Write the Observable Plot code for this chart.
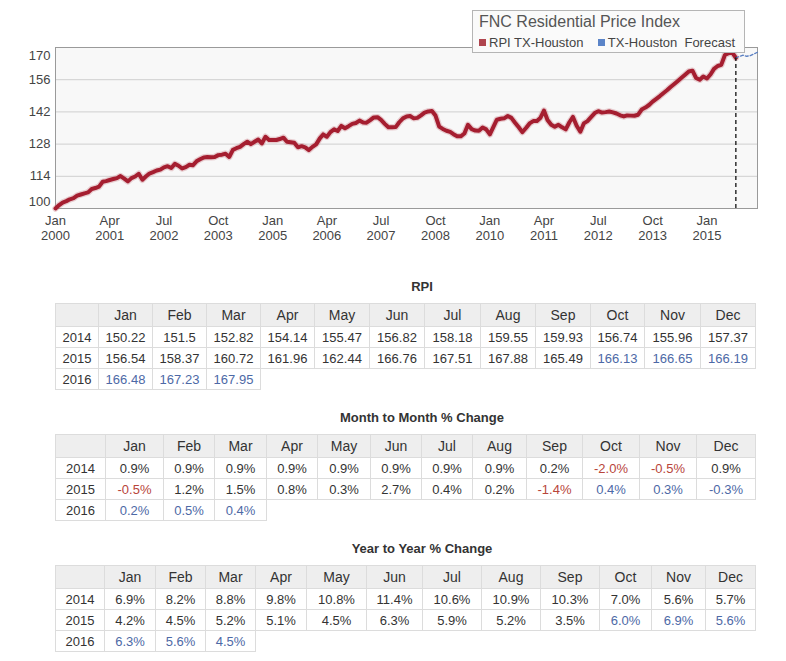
<!DOCTYPE html>
<html>
<head>
<meta charset="utf-8">
<script src="https://cdn.jsdelivr.net/npm/d3@7"></script>
<script src="https://cdn.jsdelivr.net/npm/@observablehq/plot@0.6"></script>
<style>
  body { margin: 0; background: #fff; font-family: "Liberation Sans", Arial, sans-serif; color: #333; }
  #wrap { position: relative; width: 786px; }
  #chart svg { display: block; font-family: "Liberation Sans", Arial, sans-serif; }
  #legend { position: absolute; left: 472px; top: 10px; width: 273px; height: 43px; box-sizing: border-box;
            background: #fafafa; border: 1px solid #b5b5b5; }
  #legend .ttl { position: absolute; left: 6px; top: 2px; font-size: 16px; color: #555; white-space: nowrap; }
  #legend .items { position: absolute; left: 6px; top: 24px; font-size: 13px; color: #444; white-space: nowrap; }
  #legend .sw { display: inline-block; width: 7px; height: 7px; margin-right: 3px; vertical-align: 1px; }
  .ttab { font-weight: bold; font-size: 13px; line-height: 16px; height: 16px; padding-left: 58px; text-align: center; color: #333; }
  table { border-collapse: collapse; table-layout: fixed; margin-left: 55px; width: 700px; }
  th, td { border: 1px solid #dcdcdc; padding: 0; text-align: center; white-space: nowrap; overflow: hidden; }
  th { background: #eeeeee; font-weight: normal; font-size: 14px; height: 22px; color: #333; }
  td { font-size: 13px; height: 20px; color: #333; }
</style>
</head>
<body>
<div id="wrap">
  <div id="chart"></div>
  <div id="legend">
    <div class="ttl">FNC Residential Price Index</div>
    <div class="items"><span class="sw" style="background:#b0454f"></span>RPI TX-Houston&nbsp;&nbsp;&nbsp;&nbsp;<span class="sw" style="background:#5b84c8"></span>TX-Houston&nbsp; Forecast</div>
  </div>
  <div id="tables"></div>
</div>
<script>
// ---------- data ----------
const months = ["Jan","Feb","Mar","Apr","May","Jun","Jul","Aug","Sep","Oct","Nov","Dec"];
const years = [2014, 2015, 2016];

// monthly RPI (estimated from chart) Jan 2000 .. Dec 2013
const rpi2000 = [100.0,101.5,102.6,103.2,104.0,104.5,105.6,106.1,106.6,107.0,108.5,108.9];
const rpi2001 = [109.5,111.6,111.9,112.4,112.8,113.2,114.1,113.0,111.8,113.2,113.9,115.1];
const rpi2002 = [112.5,114.0,115.2,115.8,116.5,116.9,117.9,118.4,117.6,119.4,118.6,117.4];
const rpi2003 = [118.0,119.0,118.8,120.5,121.4,122.2,122.4,122.3,122.4,123.2,123.4,123.8];
const rpi2004 = [122.4,125.5,126.2,126.8,128.0,129.0,128.0,129.0,130.0,128.3,131.2,129.8];
const rpi2005 = [129.8,129.8,130.2,130.8,129.0,128.8,128.6,126.6,127.1,126.6,125.4,126.8];
const rpi2006 = [127.9,130.5,132.2,131.2,133.2,134.4,133.7,135.9,134.9,135.8,136.8,137.2];
const rpi2007 = [138.2,137.4,137.3,138.4,139.6,139.7,138.5,136.8,135.3,135.3,135.4,137.5];
const rpi2008 = [139.2,140.0,140.2,139.2,139.4,140.5,141.7,142.2,142.4,140.4,135.6,134.6];
const rpi2009 = [133.8,133.3,132.3,131.4,131.4,132.6,136.4,134.5,133.9,133.8,135.2,134.4];
const rpi2010 = [132.2,135.6,138.6,139.0,139.2,140.2,139.4,137.3,135.3,133.2,135.0,137.0];
const rpi2011 = [138.0,138.0,139.3,142.6,138.5,136.4,135.5,136.4,135.3,134.4,137.5,139.8];
const rpi2012 = [136.0,133.4,137.0,138.0,139.7,141.5,142.3,141.7,141.9,142.2,141.8,141.3];
const rpi2013 = [140.52,140.02,140.46,140.38,140.32,140.77,143.02,143.87,145.0,146.49,147.69,148.88];

// table values
const rpi2014 = [150.22,151.5,152.82,154.14,155.47,156.82,158.18,159.55,159.93,156.74,155.96,157.37];
const rpi2015 = [156.54,158.37,160.72,161.96,162.44,166.76,167.51,167.88,165.49,166.13,166.65,166.19];
const rpi2016 = [166.48,167.23,167.95];
const mom2014 = [0.9,0.9,0.9,0.9,0.9,0.9,0.9,0.9,0.2,-2.0,-0.5,0.9];
const mom2015 = [-0.5,1.2,1.5,0.8,0.3,2.7,0.4,0.2,-1.4,0.4,0.3,-0.3];
const mom2016 = [0.2,0.5,0.4];
const yoy2014 = [6.9,8.2,8.8,9.8,10.8,11.4,10.6,10.9,10.3,7.0,5.6,5.7];
const yoy2015 = [4.2,4.5,5.2,5.1,4.5,6.3,5.9,5.2,3.5,6.0,6.9,5.6];
const yoy2016 = [6.3,5.6,4.5];
const lastActual2015 = 9; // months of 2015 that are actual (Jan..Sep); rest forecast

const yTicksMid = [114, 128, 142, 156];
const xTickLabels = ["Jan 2000","Apr 2001","Jul 2002","Oct 2003","Jan 2005","Apr 2006","Jul 2007",
                     "Oct 2008","Jan 2010","Apr 2011","Jul 2012","Oct 2013","Jan 2015"];

// ---------- build series ----------
const actualValues = [].concat(rpi2000,rpi2001,rpi2002,rpi2003,rpi2004,rpi2005,rpi2006,rpi2007,
  rpi2008,rpi2009,rpi2010,rpi2011,rpi2012,rpi2013,rpi2014,rpi2015.slice(0,lastActual2015));
const actual = actualValues.map((v,i) => ({date: new Date(Date.UTC(2000, i, 1)), value: v}));
const fcValues = [rpi2015[lastActual2015-1]].concat(rpi2015.slice(lastActual2015), rpi2016);
const forecast = fcValues.map((v,i) => ({date: new Date(Date.UTC(2015, lastActual2015-1+i, 1)), value: v}));
const lastPt = forecast[0];
const xTicks = xTickLabels.map(s => { const [m,y] = s.split(" "); return new Date(Date.UTC(+y, months.indexOf(m), 1)); });
const tickText = d => months[d.getUTCMonth()] + "\n" + d.getUTCFullYear();

const plot = Plot.plot({
  width: 786, height: 255,
  marginLeft: 55, marginRight: 29, marginTop: 47, marginBottom: 47,
  style: {color: "#444", fontSize: "13px", fontFamily: "Liberation Sans, Arial, sans-serif", background: "transparent"},
  x: {type: "utc", domain: [new Date(Date.UTC(2000,0,1)), forecast[forecast.length-1].date]},
  y: {domain: [100, 170]},
  marks: [
    Plot.frame({fill: "#f8f8f8", stroke: "none"}),
    Plot.ruleY(yTicksMid, {stroke: "#cfcfcf"}),
    Plot.frame({stroke: "#9a9a9a"}),
    Plot.line(actual, {x: "date", y: "value", stroke: "#c97a83", strokeWidth: 6.5, strokeOpacity: 0.35}),
    Plot.line(actual, {x: "date", y: "value", stroke: "#a51e30", strokeWidth: 4, strokeLinejoin: "round"}),
    Plot.line(forecast, {x: "date", y: "value", stroke: "#5a7fc2", strokeWidth: 1.3, strokeDasharray: "3,2"}),
    Plot.ruleX([lastPt], {x: "date", y1: 100, y2: "value", stroke: "#111", strokeWidth: 1.3, strokeDasharray: "4,3"}),
    Plot.axisY(yTicksMid, {tickSize: 0, tickPadding: 5, label: null, fontSize: 13}),
    Plot.axisY([170], {tickSize: 0, tickPadding: 5, label: null, dy: 8, fontSize: 13}),
    Plot.axisY([100], {tickSize: 0, tickPadding: 5, label: null, dy: -7, fontSize: 13}),
    Plot.axisX(xTicks, {tickSize: 0, tickPadding: 6, label: null, tickFormat: tickText, lineHeight: 1.15, fontSize: 13})
  ]
});
document.getElementById("chart").append(plot);

// ---------- tables ----------
const colWidths = {
  rpi: [43,54,54,54,54,55,55,56,55,55,54,56,55],
  mom: [50,58,51,52,51,53,51,51,54,56,57,57,59],
  yoy: [49,51,50,50,51,60,56,59,59,59,52,54,50]
};
const tablesDiv = document.getElementById("tables");
function buildTable(title, rows, fmt, widths, gapTop) {
  const t = document.createElement("div");
  t.className = "ttab"; t.textContent = title;
  t.style.marginTop = gapTop + "px"; t.style.marginBottom = "8px";
  tablesDiv.append(t);
  const tbl = document.createElement("table");
  const cg = document.createElement("colgroup");
  widths.forEach(w => { const c = document.createElement("col"); c.style.width = w + "px"; cg.append(c); });
  tbl.append(cg);
  const hr = document.createElement("tr");
  hr.append(document.createElement("th"));
  months.forEach(m => { const th = document.createElement("th"); th.textContent = m; hr.append(th); });
  tbl.append(hr);
  rows.forEach((vals, ri) => {
    const tr = document.createElement("tr");
    const yc = document.createElement("td"); yc.textContent = years[ri]; tr.append(yc);
    vals.forEach((v, ci) => {
      const td = document.createElement("td");
      td.textContent = fmt(v);
      const isFc = years[ri] === 2016 || (years[ri] === 2015 && ci >= lastActual2015);
      if (isFc) td.style.color = "#4d69a6";
      else if (v < 0) td.style.color = "#b8453a";
      tr.append(td);
    });
    tbl.append(tr);
  });
  tablesDiv.append(tbl);
}
const pct = v => v.toFixed(1) + "%";
buildTable("RPI", [rpi2014, rpi2015, rpi2016], v => String(v), colWidths.rpi, 24);
buildTable("Month to Month % Change", [mom2014, mom2015, mom2016], pct, colWidths.mom, 20);
buildTable("Year to Year % Change", [yoy2014, yoy2015, yoy2016], pct, colWidths.yoy, 20);
</script>
</body>
</html>
